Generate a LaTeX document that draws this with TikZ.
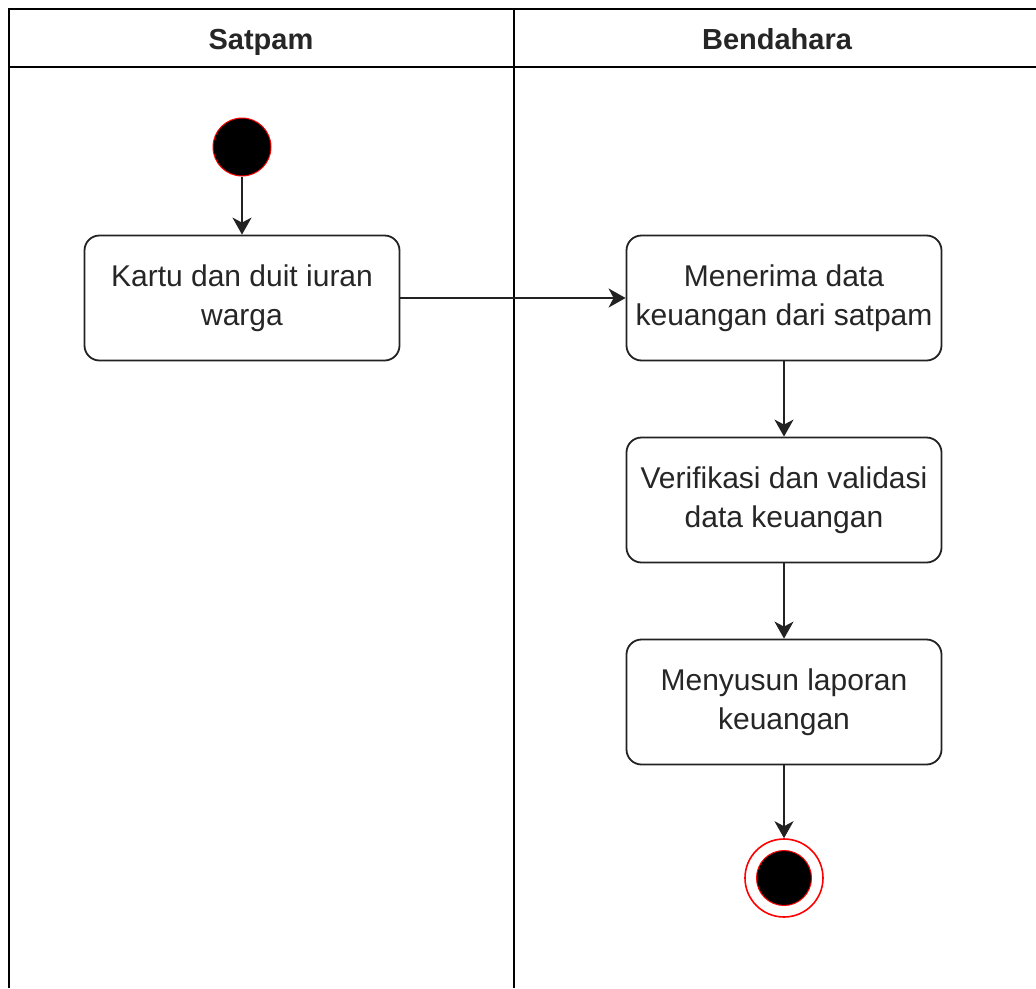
\documentclass[tikz,border=0pt]{standalone}
\usepackage{fontspec}
\setmainfont{Liberation Sans}
\usetikzlibrary{arrows.meta}
\definecolor{txt}{HTML}{262626}
\definecolor{edge}{HTML}{222222}
\newcommand{\acttext}[1]{\raisebox{-3pt}{\parbox{315pt}{\centering #1}}}
\tikzset{
  lane/.style={line width=2pt, draw=black},
  action/.style={draw=edge, line width=1.8pt, rounded corners=15pt, fill=white,
    minimum width=315pt, minimum height=125pt, align=center, text=txt,
    font=\fontsize{30}{39}\selectfont, inner sep=0pt},
  header/.style={font=\bfseries\fontsize{29}{34}\selectfont, text=txt,
    text height=21pt, text depth=6pt, inner sep=0pt},
  flow/.style={draw=edge, line width=1.8pt, -{Stealth[length=17pt,width=19pt,inset=5pt]}},
  startnode/.style={circle, fill=black, draw=red, line width=1pt, minimum size=58pt, inner sep=0pt},
  endring/.style={circle, fill=white, draw=red, line width=1.6pt, minimum size=78pt, inner sep=0pt},
  endcore/.style={circle, fill=black, draw=red, line width=1pt, minimum size=55pt, inner sep=0pt}
}
\begin{document}
\begin{tikzpicture}[x=1pt,y=-1pt]
\useasboundingbox (0,0) rectangle (1036,988);
\fill[white] (0,0) rectangle (1036,988);

% swimlane frame
\draw[lane] (9,988) -- (9,9) -- (1036,9);
\draw[lane] (9,67) -- (1036,67);
\draw[lane] (514,9) -- (514,988);
\node[header] (hsat) at (261,42) {Satpam};
\node[header] (hben) at (777,42) {Bendahara};

% activities
\node[startnode] (start) at (242,147) {};
\node[action] (kartu) at (242,298) {\acttext{Kartu dan duit iuran\\warga}};
\node[action] (terima) at (784,298) {\acttext{Menerima data\\keuangan dari satpam}};
\node[action] (verif) at (784,500) {\acttext{Verifikasi dan validasi\\data keuangan}};
\node[action] (susun) at (784,702) {\acttext{Menyusun laporan\\keuangan}};
\node[endring] (endo) at (784,878) {};
\node[endcore] (endi) at (784,878) {};

% control flow
\draw[flow] (start) -- (kartu);
\draw[flow] (kartu) -- (terima);
\draw[flow] (terima) -- (verif);
\draw[flow] (verif) -- (susun);
\draw[flow] (susun) -- (endo);
\end{tikzpicture}
\end{document}
